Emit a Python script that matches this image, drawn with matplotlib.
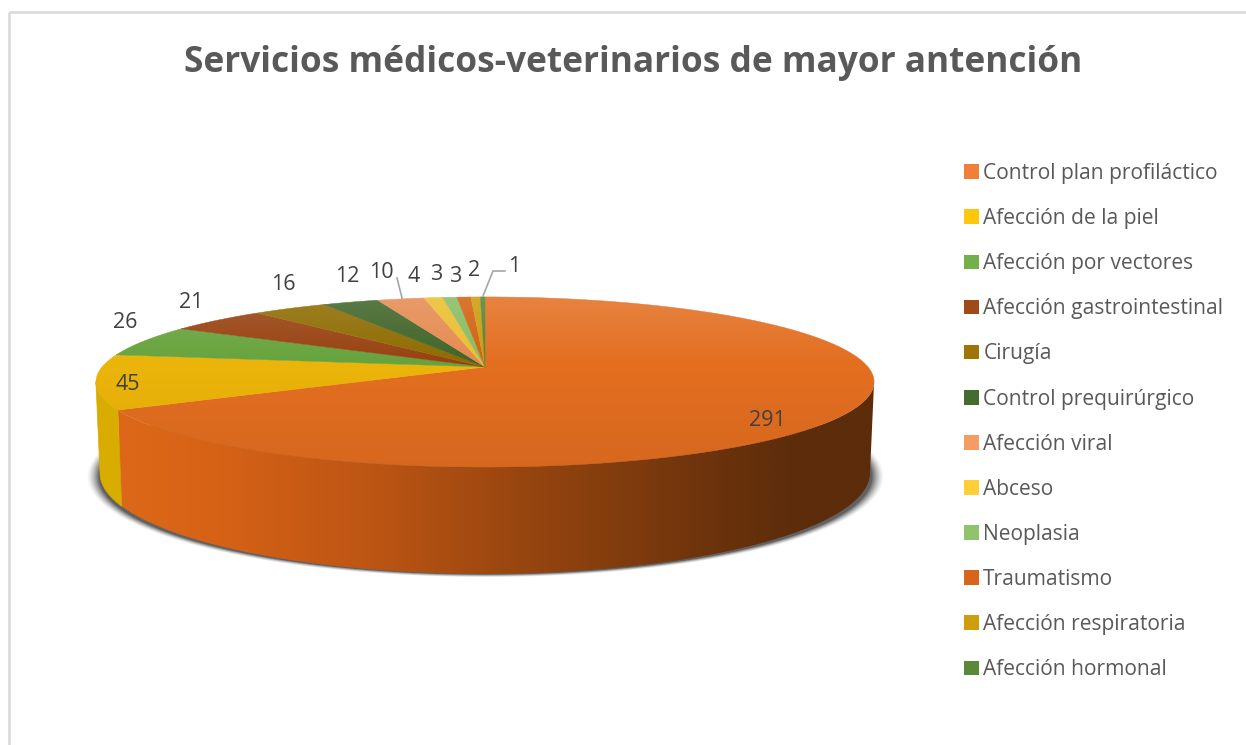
import numpy as np
import matplotlib
matplotlib.use('Agg')
import matplotlib.pyplot as plt
from matplotlib.colors import LinearSegmentedColormap
from matplotlib.patches import Patch, Polygon, Rectangle

plt.rcParams['font.family'] = ['Open Sans', 'DejaVu Sans']

# datos
categorias = ['Control plan profiláctico', 'Afección de la piel', 'Afección por vectores',
              'Afección gastrointestinal', 'Cirugía', 'Control prequirúrgico',
              'Afección viral', 'Abceso', 'Neoplasia', 'Traumatismo',
              'Afección respiratoria', 'Afección hormonal']
valores = [291, 45, 26, 21, 16, 12, 10, 4, 3, 3, 2, 1]
colores = ['#E36E20', '#EBB40A', '#66A33C', '#984110', '#8E6B00', '#3F6427',
           '#E58A50', '#EBBE2E', '#86BC62', '#D2600F', '#CC9A0A', '#4E8534']
colores_leyenda = ['#F07F38', '#FFC50F', '#73B04B', '#A04A18', '#9E7608', '#466B2E',
                   '#F59C62', '#FFD035', '#8FC46C', '#D8661A', '#CF9E0C', '#5A8A39']

# posicion de las etiquetas en pixeles
pos_etiquetas = [(767, 420), (128, 385), (125, 323), (191, 302), (283, 284), (347, 276),
                 (381, 272), (414, 276), (436, 274), (455, 277), (474, 270), (514, 266)]

# geometria del disco en perspectiva
CX = 485
K = 0.176
TOP_Y, TOP_A, TOP_B = 367, 383, 82.4
BOT_Y, BOT_A, BOT_B = 455, 379, 97.9


def disco(theta, y0, a, b):
    # theta en grados, horario desde arriba
    t = np.radians(theta)
    w = 1 + K * np.cos(t)
    return CX + a * np.sin(t) / w, y0 - b * np.cos(t) / w


def gradiente(ax, extent, rgba, clip):
    im = ax.imshow(rgba, extent=extent, aspect='auto', interpolation='bilinear',
                   zorder=clip.get_zorder())
    clip.set_transform(ax.transData)
    im.set_clip_path(clip)


fig = plt.figure(figsize=(12.46, 7.45), dpi=100)
ax = fig.add_axes([0, 0, 1, 1])
ax.axis('off')

# borde del grafico
ax.add_patch(Rectangle((9, 12), 1300, 900, fill=False, ec='#D9D9D9', lw=1.8, zorder=0))

# sombra difusa
xx, yy = np.meshgrid(np.arange(70, 900), np.arange(300, 600))
d = np.sqrt(((xx - 485) / 399.0) ** 2 + ((yy - 476) / 101.0) ** 2)
alfa = np.clip((1.0 - d) / 0.032, 0, 1) ** 1.5 * 0.85
sombra = np.zeros(xx.shape + (4,))
sombra[..., :3] = 0.27
sombra[..., 3] = alfa
ax.imshow(sombra, extent=(70, 900, 600, 300), aspect='auto', zorder=1)

# angulos acumulados
total = sum(valores)
cortes = np.concatenate([[0], np.cumsum(valores)]) / total * 360

# pared lateral visible
tangente = np.degrees(np.arccos(-K))
lado_izq = 360 - tangente
corte_izq = cortes[1]

th = np.linspace(tangente, corte_izq, 200)
xa, ya = disco(th, TOP_Y, TOP_A, TOP_B)
xb, yb = disco(th, BOT_Y, BOT_A, BOT_B)
pared = Polygon(np.column_stack([np.r_[xa, xb[::-1]], np.r_[ya, yb[::-1]]]), closed=True,
                fc='none', ec='none', zorder=2)
ax.add_patch(pared)
cmap = LinearSegmentedColormap.from_list('pared', [
    (0.0, '#DE6919'), (0.15, '#D66216'), (0.35, '#BC5514'), (0.55, '#96450F'),
    (0.8, '#6A320C'), (0.9, '#5C2C0B'), (1.0, '#5C2C0B')])
col = np.linspace(0, 1, 800)[None, :]
gradiente(ax, (100, 880, 590, 370), cmap(col), pared)

th = np.linspace(corte_izq, lado_izq, 60)
xa, ya = disco(th, TOP_Y, TOP_A, TOP_B)
xb, yb = disco(th, BOT_Y, BOT_A, BOT_B)
ax.fill(np.r_[xa, xb[::-1]], np.r_[ya, yb[::-1]], color='#D9AC00', lw=0.5, zorder=3)

# cara superior
for i, c in enumerate(colores):
    th = np.linspace(cortes[i], cortes[i + 1], max(3, int(valores[i] * 3)))
    xs, ys = disco(th, TOP_Y, TOP_A, TOP_B)
    ax.fill(np.r_[CX, xs], np.r_[TOP_Y, ys], fc=c, ec=c, lw=0.3, zorder=4)

# brillo de la cara superior
th = np.linspace(0, 360, 400)
xs, ys = disco(th, TOP_Y, TOP_A, TOP_B)
tapa = Polygon(np.column_stack([xs, ys]), closed=True, fc='none', ec='none', zorder=5)
ax.add_patch(tapa)
fila = np.linspace(0, 1, 200)
luz = np.zeros((200, 1, 4))
luz[..., 0:3] = np.where(fila < 0.4, 1.0, 0.0)[:, None, None]
luz[..., 3] = np.where(fila < 0.4, (0.4 - fila) / 0.4 * 0.15, (fila - 0.4) / 0.6 * 0.06)[:, None]
gradiente(ax, (90, 880, 470, 295), luz, tapa)

# etiquetas
for v, (x, y) in zip(valores, pos_etiquetas):
    ax.text(x, y, str(v), ha='center', va='center', fontsize=15.5, color='#404040', zorder=7)

# lineas guia
ax.plot([397, 402], [278, 298], color='#A6A6A6', lw=1.2, zorder=6)
ax.plot([505, 493, 483], [271, 271, 296], color='#A6A6A6', lw=1.2, zorder=6)

# titulo
ax.text(633, 63, 'Servicios médicos-veterinarios de mayor antención', ha='center', va='center',
        fontsize=25.4, fontweight='bold', color='#595959')

# leyenda
handles = [Patch(fc=c, ec='none') for c in colores_leyenda]
ax.legend(handles, categorias, loc='upper left', bbox_to_anchor=(964 / 1246, 1 - 163 / 745),
          frameon=False, fontsize=15.1, labelcolor='#595959', handlelength=0.7, handleheight=0.7,
          handletextpad=0.22, labelspacing=1.15, borderpad=0, borderaxespad=0)

ax.set_xlim(0, 1246)
ax.set_ylim(745, 0)

fig.savefig('out.png', dpi=100)
